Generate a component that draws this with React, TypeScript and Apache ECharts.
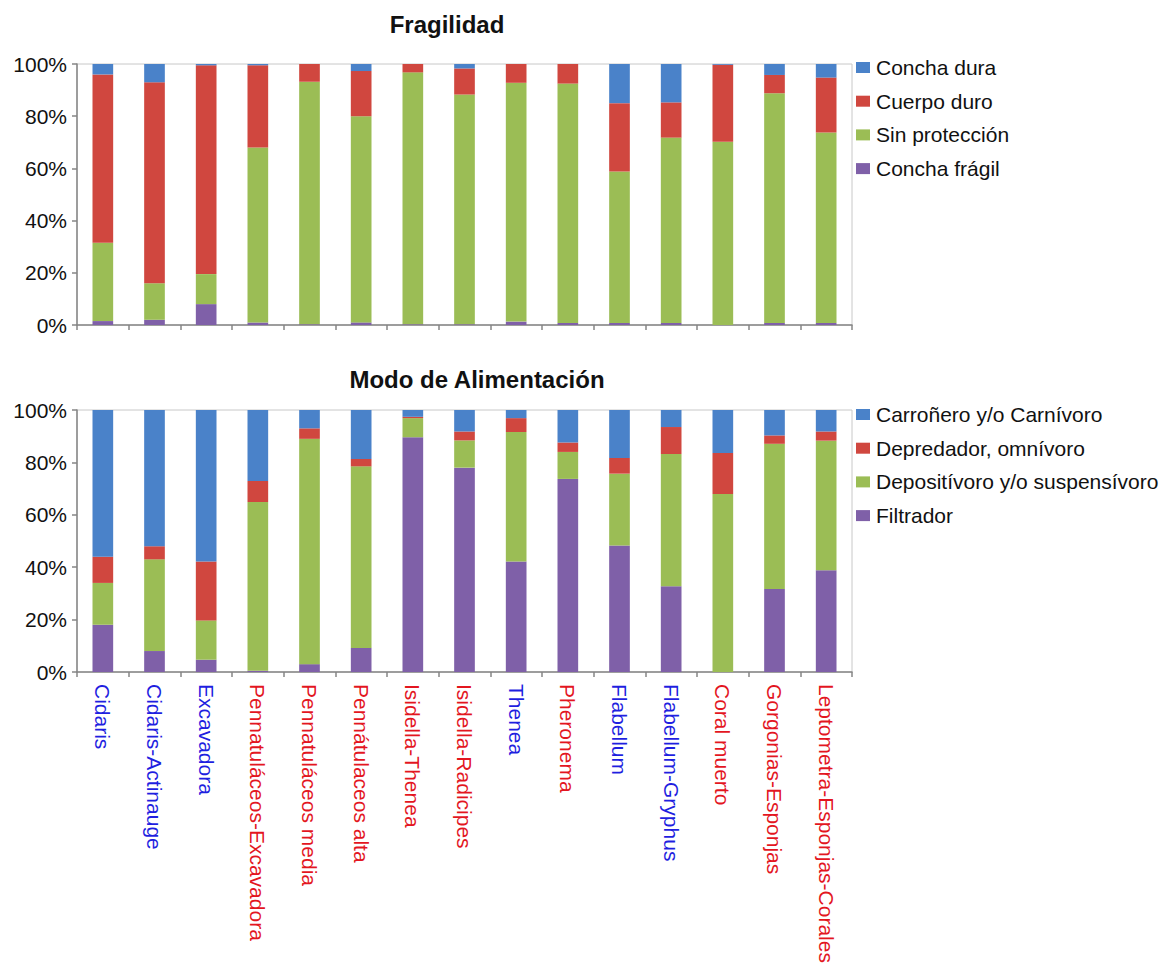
import React, { useEffect, useRef } from "react";
import * as echarts from "echarts";

const categories = [
  "Cidaris",
  "Cidaris-Actinauge",
  "Excavadora",
  "Pennatuláceos-Excavadora",
  "Pennatuláceos media",
  "Pennátulaceos alta",
  "Isidella-Thenea",
  "Isidella-Radicipes",
  "Thenea",
  "Pheronema",
  "Flabellum",
  "Flabellum-Gryphus",
  "Coral muerto",
  "Gorgonias-Esponjas",
  "Leptometra-Esponjas-Corales",
];

// Fragilidad (%)
const conchaFragil = [1.5, 2, 8, 1, 0.3, 1, 0.3, 0.3, 1.3, 0.8, 0.8, 0.8, 0, 0.8, 0.8];
const sinProteccion = [30, 14, 11.5, 67, 92.9, 79, 96.5, 88, 91.5, 91.7, 58, 71, 70.2, 88, 73];
const cuerpoDuro = [64.5, 77, 80, 31.5, 6.8, 17.3, 3.2, 10, 7.2, 7.5, 26.2, 13.5, 29.5, 7, 21];
const conchaDura = [4, 7, 0.5, 0.5, 0, 2.7, 0, 1.7, 0, 0, 15, 14.7, 0.3, 4.2, 5.2];

// Modo de Alimentación (%)
const filtrador = [18, 8, 4.7, 0.5, 3, 9.2, 89.6, 78, 42.2, 73.7, 48.3, 32.7, 0, 31.7, 38.8];
const depositivoro = [16, 35, 15, 64.4, 86, 69.3, 7.3, 10.4, 49.4, 10.3, 27.4, 50.5, 67.9, 55.4, 49.5];
const depredador = [10, 5, 22.5, 8, 4, 2.8, 0.5, 3.4, 5.3, 3.6, 6, 10.3, 15.7, 3.2, 3.5];
const carronero = [56, 52, 57.8, 27.1, 7, 18.7, 2.6, 8.2, 3.1, 12.4, 18.3, 6.5, 16.4, 9.7, 8.2];

const yTicks = [0, 20, 40, 60, 80, 100];

const BLUE_LBL = "#1f1fe0";
const RED_LBL = "#e3161f";
const labelGroup = ["b", "b", "b", "r", "r", "r", "r", "r", "b", "r", "b", "b", "r", "r", "r"];

const C_BLUE = "#4a82c9";
const C_RED = "#d0473f";
const C_GREEN = "#9bbd55";
const C_PURPLE = "#7f60a8";

const FONT = "'Liberation Sans', Arial, Helvetica, sans-serif";
const AXIS_GRAY = "#868686";

export default function App() {
  const ref = useRef<HTMLDivElement>(null);

  useEffect(() => {
    if (!ref.current) return;
    const chart = echarts.init(ref.current, null, { renderer: "svg" });

    const xAxisBase = (gridIndex: number, showLabels: boolean) => ({
      type: "category",
      gridIndex,
      data: categories,
      axisLine: { show: true, lineStyle: { color: AXIS_GRAY, width: 1.5 } },
      axisTick: { show: true, interval: 0, length: 5, lineStyle: { color: AXIS_GRAY, width: 1.5 } },
      axisLabel: showLabels
        ? {
            show: true,
            rotate: -90,
            interval: 0,
            margin: 12,
            fontSize: 21,
            fontFamily: FONT,
            color: (_v: string, i: number) => (labelGroup[i] === "b" ? BLUE_LBL : RED_LBL),
          }
        : { show: false, interval: 0 },
      splitLine: { show: false },
    });

    const yAxisBase = (gridIndex: number) => ({
      type: "value",
      gridIndex,
      min: yTicks[0],
      max: yTicks[yTicks.length - 1],
      interval: 20,
      axisLine: { show: true, lineStyle: { color: AXIS_GRAY, width: 1.5 } },
      axisTick: { show: true, length: 5, lineStyle: { color: AXIS_GRAY, width: 1.5 } },
      axisLabel: {
        formatter: "{value}%",
        fontSize: 21,
        fontFamily: FONT,
        color: "#111",
        margin: 10,
      },
      splitLine: { show: false },
    });

    const bar = (name: string, data: number[], color: string, stack: string, idx: number) => ({
      name,
      type: "bar",
      stack,
      xAxisIndex: idx,
      yAxisIndex: idx,
      data,
      barWidth: "40%",
      itemStyle: { color },
    });

    const legendBase = (top: number, data: string[]) => ({
      orient: "vertical",
      left: 851,
      top,
      data,
      icon: "rect",
      itemWidth: 14,
      itemHeight: 11,
      itemGap: 12.7,
      textStyle: { fontSize: 21, fontFamily: FONT, color: "#111", padding: [0, 0, 0, 1] },
      selectedMode: false,
    });

    chart.setOption({
      animation: false,
      backgroundColor: "#fff",
      title: [
        {
          text: "Fragilidad",
          left: 442,
          top: 7,
          textAlign: "center",
          textStyle: { fontSize: 24, fontWeight: "bold", fontFamily: FONT, color: "#111" },
        },
        {
          text: "Modo de Alimentación",
          left: 472,
          top: 362,
          textAlign: "center",
          textStyle: { fontSize: 24, fontWeight: "bold", fontFamily: FONT, color: "#111" },
        },
      ],
      legend: [
        legendBase(52, ["Concha dura", "Cuerpo duro", "Sin protección", "Concha frágil"]),
        legendBase(399, [
          "Carroñero y/o Carnívoro",
          "Depredador, omnívoro",
          "Depositívoro y/o suspensívoro",
          "Filtrador",
        ]),
      ],
      grid: [
        { left: 77, top: 64, width: 775, height: 261, show: true, borderColor: "#c8c8c8", borderWidth: 1 },
        { left: 77, top: 410, width: 775, height: 262, show: true, borderColor: "#c8c8c8", borderWidth: 1 },
      ],
      xAxis: [xAxisBase(0, false), xAxisBase(1, true)],
      yAxis: [yAxisBase(0), yAxisBase(1)],
      series: [
        bar("Concha frágil", conchaFragil, C_PURPLE, "frag", 0),
        bar("Sin protección", sinProteccion, C_GREEN, "frag", 0),
        bar("Cuerpo duro", cuerpoDuro, C_RED, "frag", 0),
        bar("Concha dura", conchaDura, C_BLUE, "frag", 0),
        bar("Filtrador", filtrador, C_PURPLE, "alim", 1),
        bar("Depositívoro y/o suspensívoro", depositivoro, C_GREEN, "alim", 1),
        bar("Depredador, omnívoro", depredador, C_RED, "alim", 1),
        bar("Carroñero y/o Carnívoro", carronero, C_BLUE, "alim", 1),
      ],
    });

    return () => {
      chart.dispose();
    };
  }, []);

  return (
    <div
      ref={ref}
      style={{ position: "fixed", left: 0, top: 0, width: 1164, height: 972, background: "#fff" }}
    />
  );
}
